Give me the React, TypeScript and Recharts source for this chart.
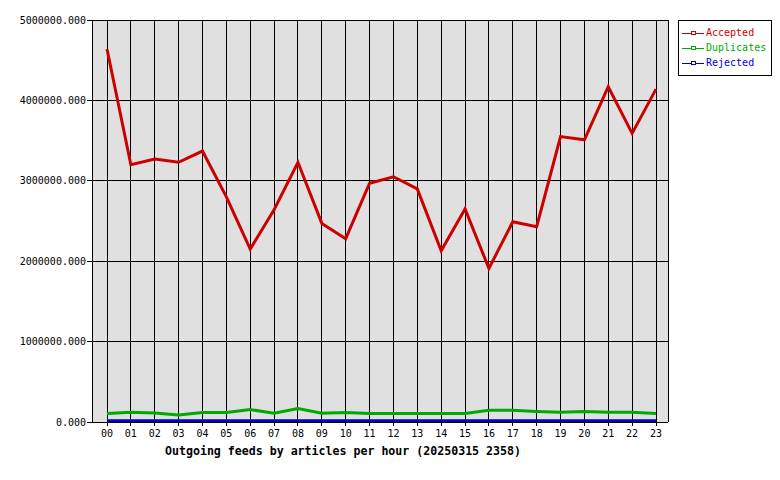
import React from "react";
import {
  LineChart,
  Line,
  XAxis,
  YAxis,
  CartesianGrid,
} from "recharts";

const hours = [
  "00", "01", "02", "03", "04", "05", "06", "07", "08", "09", "10", "11",
  "12", "13", "14", "15", "16", "17", "18", "19", "20", "21", "22", "23",
];

const accepted = [
  4640000, 3200000, 3270000, 3230000, 3370000, 2800000, 2150000, 2640000,
  3230000, 2470000, 2280000, 2970000, 3050000, 2900000, 2130000, 2650000,
  1910000, 2490000, 2430000, 3550000, 3510000, 4170000, 3590000, 4140000,
];

const duplicates = [
  105000, 122000, 112000, 88000, 117000, 117000, 155000, 108000,
  168000, 108000, 117000, 105000, 105000, 105000, 105000, 105000,
  145000, 145000, 132000, 120000, 132000, 120000, 120000, 105000,
];

const rejected = [
  15000, 15000, 15000, 15000, 15000, 15000, 15000, 15000,
  15000, 15000, 15000, 15000, 15000, 15000, 15000, 15000,
  15000, 15000, 15000, 15000, 15000, 15000, 15000, 15000,
];

const seriesNames = ["Accepted", "Duplicates", "Rejected"];
const seriesColors = ["#cc0000", "#00aa00", "#0000cc"];

const yTicks = [0, 1000000, 2000000, 3000000, 4000000, 5000000];

const title = "Outgoing feeds by articles per hour (20250315 2358)";

const mono = "'DejaVu Sans Mono', monospace";

const data = hours.map((h, i) => ({
  hour: h,
  Accepted: accepted[i],
  Duplicates: duplicates[i],
  Rejected: rejected[i],
}));

function LegendBox() {
  return (
    <div
      style={{
        position: "absolute",
        left: 678,
        top: 20,
        width: 94,
        height: 56,
        border: "1px solid #000",
        background: "#fff",
        boxSizing: "border-box",
        padding: "4px 0 0 3px",
        fontFamily: mono,
        fontSize: 10,
      }}
    >
      {seriesNames.map((name, i) => (
        <div
          key={name}
          style={{ display: "flex", alignItems: "center", height: 15, color: seriesColors[i] }}
        >
          <svg width={22} height={8} style={{ marginRight: 2 }} shapeRendering="crispEdges">
            <line x1={0} y1={4} x2={22} y2={4} stroke={seriesColors[i]} strokeWidth={1} />
            <rect x={9} y={2} width={4} height={3} fill="#fff" stroke={seriesColors[i]} strokeWidth={1} />
          </svg>
          <span>{name}</span>
        </div>
      ))}
    </div>
  );
}

export default function App() {
  return (
    <div style={{ position: "absolute", left: 0, top: 0, width: 780, height: 480, background: "#fff" }}>
      <LineChart
        width={780}
        height={480}
        data={data}
        margin={{ top: 20, right: 112, bottom: 28, left: 0 }}
      >
        <CartesianGrid
          fill="#e0e0e0"
          stroke="#000"
          strokeOpacity={1}
          strokeWidth={1}
          shapeRendering="crispEdges"
        />
        <XAxis
          dataKey="hour"
          height={30}
          interval={0}
          padding={{ left: 15, right: 12 }}
          axisLine={{ stroke: "#000", shapeRendering: "crispEdges" }}
          tickLine={{ stroke: "#000", shapeRendering: "crispEdges" }}
          tickSize={4}
          tickMargin={4}
          tick={{ fill: "#000", fontSize: 10, fontFamily: mono }}
        />
        <YAxis
          width={92}
          domain={[0, 5000000]}
          ticks={yTicks}
          interval={0}
          tickFormatter={(v: number) => v.toFixed(3)}
          axisLine={{ stroke: "#000", shapeRendering: "crispEdges" }}
          tickLine={{ stroke: "#000", shapeRendering: "crispEdges" }}
          tickSize={5}
          tickMargin={1}
          tick={{ fill: "#000", fontSize: 10, fontFamily: mono }}
        />
        <YAxis
          yAxisId="border"
          orientation="right"
          width={0}
          tick={false}
          tickLine={false}
          axisLine={{ stroke: "#000", shapeRendering: "crispEdges" }}
        />
        {seriesNames.map((name, i) => (
          <Line
            key={name}
            type="linear"
            dataKey={name}
            stroke={seriesColors[i]}
            strokeWidth={3}
            dot={false}
            isAnimationActive={false}
          />
        ))}
      </LineChart>
      <LegendBox />
      <div
        style={{
          position: "absolute",
          left: 0,
          top: 444,
          width: 686,
          textAlign: "center",
          fontFamily: mono,
          fontWeight: "bold",
          fontSize: 11.6,
          color: "#000",
          whiteSpace: "nowrap",
        }}
      >
        {title}
      </div>
    </div>
  );
}
